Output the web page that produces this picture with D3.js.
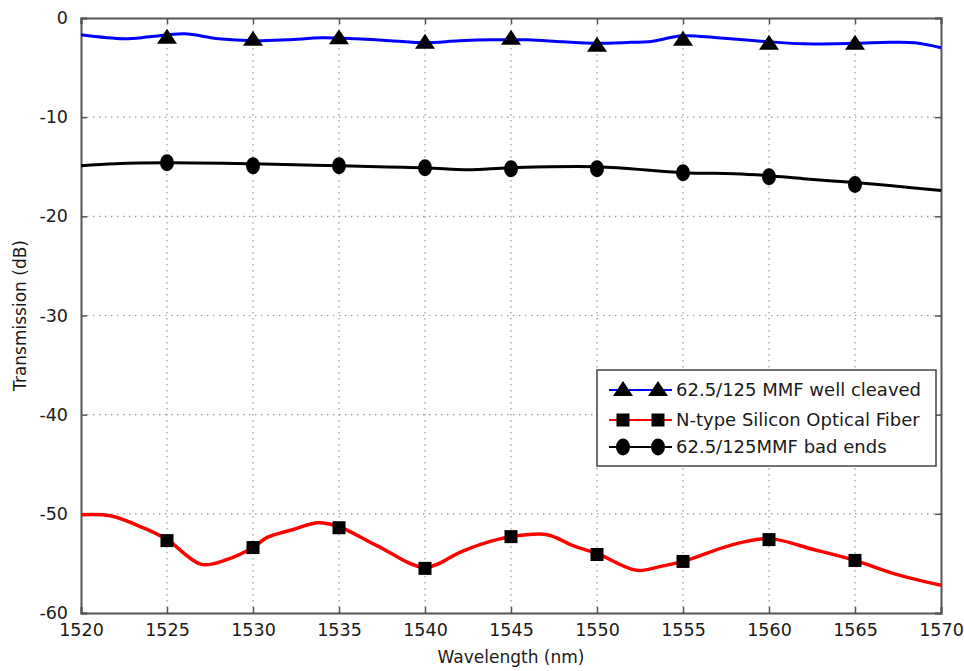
<!DOCTYPE html>
<html>
<head>
<meta charset="utf-8">
<script src="https://cdn.jsdelivr.net/npm/d3@7"></script>
<style>
  body { margin: 0; background: #fff; }
  text { font-family: "DejaVu Sans", Verdana, sans-serif; fill: #1a1a1a; }
</style>
</head>
<body>
<svg id="chart"></svg>
<script>
// ---- data ----
const xTicks = [1520, 1525, 1530, 1535, 1540, 1545, 1550, 1555, 1560, 1565, 1570];
const yTicks = [0, -10, -20, -30, -40, -50, -60];
const markerWl = [1525, 1530, 1535, 1540, 1545, 1550, 1555, 1560, 1565];

// 62.5/125 MMF well cleaved (blue)
const cleavedWl = [1520, 1522.5, 1524, 1526, 1528, 1530, 1532, 1534, 1536, 1538, 1540, 1542, 1544, 1546, 1548, 1550, 1552, 1553, 1555, 1557, 1560, 1562, 1565, 1567, 1568.5, 1570];
const cleavedDb = [-1.7, -2.1, -1.9, -1.6, -2.1, -2.3, -2.2, -2.0, -2.1, -2.3, -2.5, -2.3, -2.2, -2.2, -2.4, -2.55, -2.45, -2.4, -1.8, -2.0, -2.4, -2.6, -2.55, -2.45, -2.5, -3.0];
const cleavedMarkers = [-2.0, -2.2, -2.05, -2.5, -2.1, -2.8, -2.2, -2.6, -2.6];

// N-type Silicon Optical Fiber (red)
const siliconWl = [1520, 1521.7, 1523.6, 1525, 1527, 1528.5, 1530, 1530.8, 1532.3, 1533.8, 1535, 1537.2, 1540, 1542, 1543.2, 1545, 1547.1, 1548.6, 1550, 1552.3, 1553.7, 1555, 1557.9, 1560, 1562.6, 1565, 1567.4, 1570];
const siliconDb = [-50.1, -50.2, -51.4, -52.6, -55.1, -54.6, -53.4, -52.4, -51.6, -50.9, -51.3, -53.2, -55.4, -53.9, -53.1, -52.3, -52.1, -53.2, -54.0, -55.7, -55.3, -54.8, -53.1, -52.5, -53.6, -54.7, -56.1, -57.2];
const siliconMarkers = [-52.7, -53.4, -51.4, -55.5, -52.3, -54.1, -54.8, -52.6, -54.7];

// 62.5/125MMF bad ends (black)
const badWl = [1520, 1522, 1525, 1530, 1535, 1540, 1542.5, 1545, 1550, 1555, 1558, 1560, 1562, 1565, 1567, 1570];
const badDb = [-14.9, -14.7, -14.6, -14.7, -14.9, -15.1, -15.3, -15.1, -15.0, -15.6, -15.7, -15.9, -16.2, -16.6, -16.9, -17.4];
const badMarkers = [-14.6, -14.9, -14.9, -15.1, -15.2, -15.2, -15.6, -16.0, -16.8];

const legendLabels = ["62.5/125 MMF well cleaved", "N-type Silicon Optical Fiber", "62.5/125MMF bad ends"];

// ---- layout ----
const W = 964, H = 671;
const margin = {left: 81, top: 18, right: 23, bottom: 58};
const iw = W - margin.left - margin.right;
const ih = H - margin.top - margin.bottom;

const svg = d3.select("#chart").attr("width", W).attr("height", H);
const g = svg.append("g").attr("transform", `translate(${margin.left},${margin.top})`);

const x = d3.scaleLinear().domain([1520, 1570]).range([0, iw]);
const y = d3.scaleLinear().domain([-60, 0]).range([ih, 0]);

// grid
g.append("g").selectAll("line")
  .data(xTicks.slice(1, -1))
  .enter().append("line")
  .attr("x1", d => x(d)).attr("x2", d => x(d))
  .attr("y1", 0).attr("y2", ih)
  .attr("stroke", "#999").attr("stroke-width", 1.2)
  .attr("stroke-dasharray", "1.5,4.5");
g.append("g").selectAll("line")
  .data(yTicks.slice(1, -1))
  .enter().append("line")
  .attr("x1", 0).attr("x2", iw)
  .attr("y1", d => y(d)).attr("y2", d => y(d))
  .attr("stroke", "#999").attr("stroke-width", 1.2)
  .attr("stroke-dasharray", "1.5,4.5");

// axes (inward ticks, box)
const axisColor = "#555";
const xb = g.append("g").attr("transform", `translate(0,${ih})`)
  .call(d3.axisBottom(x).tickValues(xTicks).tickSize(-6).tickPadding(12).tickFormat(d3.format("d")));
const xt = g.append("g")
  .call(d3.axisTop(x).tickValues(xTicks).tickSize(-6).tickFormat(""));
const yl = g.append("g")
  .call(d3.axisLeft(y).tickValues(yTicks).tickSize(-6).tickPadding(13).tickFormat(d => d === 0 ? "0" : "-" + Math.abs(d)));
const yr = g.append("g").attr("transform", `translate(${iw},0)`)
  .call(d3.axisRight(y).tickValues(yTicks).tickSize(-6).tickFormat(""));
[xb, xt, yl, yr].forEach(a => {
  a.select(".domain").attr("stroke", axisColor).attr("stroke-width", 2);
  a.selectAll(".tick line").attr("stroke", axisColor).attr("stroke-width", 1.5);
  a.selectAll(".tick text").attr("font-size", 17.5).attr("fill", "#1a1a1a")
    .attr("font-family", "DejaVu Sans, sans-serif");
});
xb.selectAll(".tick text").attr("dy", "0.6em");

// axis titles
svg.append("text")
  .attr("x", margin.left + iw / 2).attr("y", 663)
  .attr("text-anchor", "middle").attr("font-size", 17)
  .text("Wavelength (nm)");
svg.append("text")
  .attr("transform", `translate(26,${margin.top + ih / 2}) rotate(-90)`)
  .attr("text-anchor", "middle").attr("font-size", 17)
  .text("Transmission (dB)");

// lines
const line = d3.line().x(d => x(d[0])).y(d => y(d[1])).curve(d3.curveCatmullRom.alpha(0.5));
const series = [
  {wl: cleavedWl, db: cleavedDb, mk: cleavedMarkers, color: "#0000ff", width: 3, shape: "tri"},
  {wl: siliconWl, db: siliconDb, mk: siliconMarkers, color: "#ff0000", width: 3.5, shape: "sq"},
  {wl: badWl, db: badDb, mk: badMarkers, color: "#000000", width: 3, shape: "circ"}
];

function drawMarker(sel, shape, cx, cy) {
  if (shape === "tri") {
    sel.append("path")
      .attr("d", `M${cx},${cy - 9}L${cx + 10},${cy + 6}L${cx - 10},${cy + 6}Z`)
      .attr("fill", "#000");
  } else if (shape === "sq") {
    sel.append("rect")
      .attr("x", cx - 6.5).attr("y", cy - 6.5).attr("width", 13).attr("height", 13)
      .attr("fill", "#000");
  } else {
    sel.append("ellipse")
      .attr("cx", cx).attr("cy", cy).attr("rx", 7).attr("ry", 8.5)
      .attr("fill", "#000");
  }
}

series.forEach(s => {
  g.append("path")
    .datum(s.wl.map((w, i) => [w, s.db[i]]))
    .attr("d", line)
    .attr("fill", "none")
    .attr("stroke", s.color)
    .attr("stroke-width", s.width)
    .attr("stroke-linejoin", "round");
  const mg = g.append("g");
  markerWl.forEach((w, i) => drawMarker(mg, s.shape, x(w), y(s.mk[i])));
});

// legend
const lg = svg.append("g").attr("transform", "translate(597,370)");
lg.append("rect")
  .attr("width", 339).attr("height", 96)
  .attr("fill", "#fff").attr("stroke", "#444").attr("stroke-width", 1.5);
const rowY = [20, 50, 77];
series.forEach((s, i) => {
  const r = lg.append("g");
  r.append("line")
    .attr("x1", 12).attr("x2", 75).attr("y1", rowY[i]).attr("y2", rowY[i])
    .attr("stroke", s.color).attr("stroke-width", 2);
  drawMarker(r, s.shape, 26, rowY[i]);
  drawMarker(r, s.shape, 61, rowY[i]);
  r.append("text")
    .attr("x", 79).attr("y", rowY[i]).attr("dy", "0.36em")
    .attr("font-size", 18)
    .text(legendLabels[i]);
});
</script>
</body>
</html>
